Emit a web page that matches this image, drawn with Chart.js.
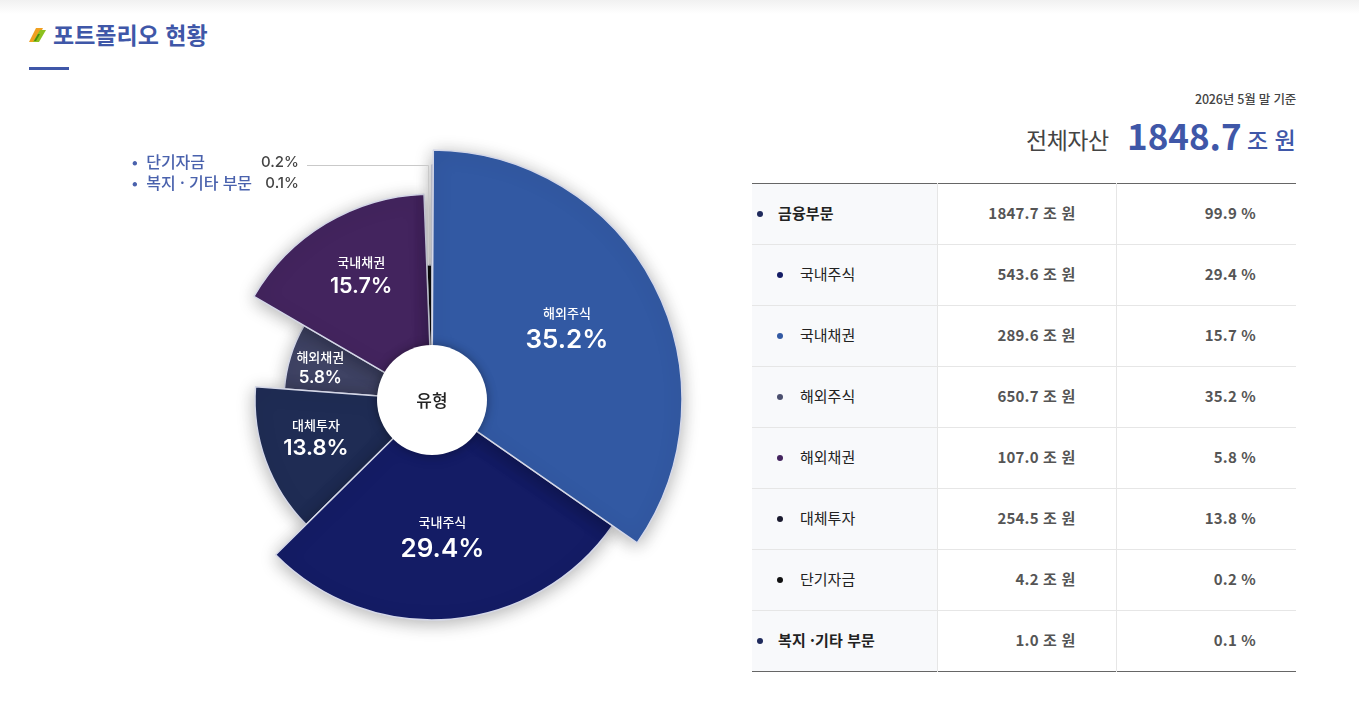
<!DOCTYPE html>
<html lang="ko">
<head>
<meta charset="utf-8">
<title>포트폴리오 현황</title>
<script src="https://cdn.jsdelivr.net/npm/chart.js@4"></script>
<style>
  html, body { margin: 0; padding: 0; background: #fff; }
  body { width: 1359px; height: 707px; position: relative; overflow: hidden; font-family: "Noto Sans CJK KR", "Noto Sans", sans-serif; }
  .topfade { position: absolute; left: 0; top: 0; width: 100%; height: 14px; background: linear-gradient(#f1f1f1, #fff); }
  .abs { position: absolute; white-space: nowrap; }
  #title { left: 53px; top: 18px; font-size: 23px; line-height: 32px; font-weight: 700; color: #3f57a8; }
  #rule { left: 29px; top: 67px; width: 40px; height: 3px; background: #3f57a8; }
  #icon { left: 28px; top: 26px; }
  #chartBox { position: absolute; left: 112px; top: 120px; width: 640px; height: 560px; }
  #date { right: 63px; top: 90px; font-size: 12.5px; line-height: 18px; font-weight: 500; color: #444; letter-spacing: -0.2px; }
  #totalLabel { left: 1026px; top: 122px; font-size: 23px; line-height: 34px; font-weight: 400; color: #444; letter-spacing: -0.5px; }
  #total { left: 1127px; top: 108px; font-size: 35px; line-height: 54px; font-weight: 700; color: #3f57a8; }
  #totalUnit { left: 1247px; top: 122px; font-size: 23px; line-height: 34px; font-weight: 500; color: #3f57a8; }
  .lg { font-size: 16px; line-height: 20px; color: #4a62ad; font-weight: 500; letter-spacing: -0.1px; }
  .lgv { font-size: 15px; line-height: 20px; color: #444; font-weight: 500; right: 1060px; font-family: Inter, sans-serif; }
  table { position: absolute; left: 752px; top: 183px; width: 544px; border-collapse: collapse; table-layout: fixed; border-top: 1px solid #666; border-bottom: 1px solid #666; }
  td { height: 56px; padding: 0 0 4px 0; border-top: 1px solid #e6e6e6; font-size: 15px; color: #555; font-weight: 700; text-align: right; letter-spacing: 0.2px; }
  tr:first-child td { border-top: 0; }
  td.name { background: #f8f9fb; text-align: left; color: #222; font-weight: 400; position: relative; border-right: 1px solid #e6e6e6; letter-spacing: 0; }
  td.amt { border-right: 1px solid #e6e6e6; padding-right: 40px; }
  td.pct { padding-right: 40px; }
  td.top { font-weight: 700; color: #222; padding-left: 26px; font-size: 15px; letter-spacing: 0.1px; }
  td.sub { padding-left: 48px; }
  .dot { position: absolute; top: 50%; margin-top: -3px; width: 6px; height: 6px; border-radius: 50%; }
</style>
</head>
<body>
<div class="topfade"></div>
<svg id="icon" class="abs" width="19" height="18" viewBox="0 0 19 18">
  <polygon points="1,16 8,2 15,2 8,16" fill="#f0a020"/>
  <polygon points="5,16 12,4 18,4 11,16" fill="#8cc11f"/>
  <polygon points="6,15 10,8 12,8 8,15" fill="#4a8a10"/>
</svg>
<div id="title" class="abs">포트폴리오 현황</div>
<div id="rule" class="abs"></div>

<div id="chartBox"><canvas id="fan"></canvas></div>

<div class="abs lg" style="left:132px;top:151px">•&nbsp;&nbsp;단기자금</div>
<div class="abs lgv" style="top:152px">0.2%</div>
<div class="abs lg" style="left:132px;top:172px">•&nbsp;&nbsp;복지 · 기타 부문</div>
<div class="abs lgv" style="top:173px">0.1%</div>

<div id="date" class="abs">2026년 5월 말 기준</div>
<div id="totalLabel" class="abs">전체자산</div>
<div id="total" class="abs">1848.7</div>
<div id="totalUnit" class="abs">조 원</div>

<table id="tbl">
  <colgroup><col style="width:185px"><col style="width:179px"><col style="width:180px"></colgroup>
  <tbody></tbody>
</table>

<script>
// slices, clockwise from 12 o'clock
const sliceNames = ["해외주식", "국내주식", "대체투자", "해외채권", "국내채권", "단기자금", "복지 · 기타 부문"];
// share of the circle each slice really takes in the picture (not quite the printed %)
const drawnShare = [34.6, 27.9, 13.6, 7.2, 16.0, 0.6, 0.1];
const printedShare = ["35.2%", "29.4%", "13.8%", "5.8%", "15.7%", "0.2%", "0.1%"];

// table on the right
const rowNames = ["금융부문", "국내주식", "국내채권", "해외주식", "해외채권", "대체투자", "단기자금", "복지 ·기타 부문"];
const rowAmounts = ["1847.7", "543.6", "289.6", "650.7", "107.0", "254.5", "4.2", "1.0"];
const rowPercents = ["99.9", "29.4", "15.7", "35.2", "5.8", "13.8", "0.2", "0.1"];

// looks
const sliceColors = ["#3259a3", "#141c65", "#1f2c54", "#3f4364", "#43245e", "#111111", "#d4d4d8"];
const sliceRadius = [250, 220, 177, 148, 206, 135, 235];
const labelDist = [154, 135, 121.5, 116.5, 145];
const labelTurn = [-1.4, 0.5, 3, -0.7, 1.8];
const labelBig = [26, 26, 22, 17, 21.5];
const labelGap = [26, 26, 21, 19, 23];
const holeRadius = 55;
const dotColors = ["#1f2a5c", "#141c65", "#3259a3", "#4b4f6e", "#43245e", "#1a1a2e", "#111111", "#1f2a5c"];

const tbody = document.querySelector("#tbl tbody");
rowNames.forEach((name, i) => {
  const isTop = i === 0 || i === rowNames.length - 1;
  const tr = document.createElement("tr");
  tr.innerHTML =
    '<td class="name ' + (isTop ? "top" : "sub") + '"><span class="dot" style="left:' + (isTop ? 5 : 25) + 'px;background:' + dotColors[i] + '"></span>' + name + '</td>' +
    '<td class="amt">' + rowAmounts[i] + ' 조 원</td>' +
    '<td class="pct">' + rowPercents[i] + ' %</td>';
  tbody.appendChild(tr);
});

const fanPlugin = {
  id: "fan",
  afterDatasetsUpdate(chart) {
    chart.getDatasetMeta(0).data.forEach((arc, i) => {
      arc.outerRadius = sliceRadius[i];
      arc.innerRadius = holeRadius - 5;
    });
  },
  // short slices first so that the longer ones throw their shadow over them
  beforeDatasetDraw(chart) {
    const ctx = chart.ctx;
    const arcs = chart.getDatasetMeta(0).data;
    const order = arcs.map((a, i) => i).sort((a, b) => sliceRadius[a] - sliceRadius[b]);
    ctx.save();
    ctx.shadowColor = "rgba(0,0,0,0.3)";
    ctx.shadowBlur = 18;
    ctx.shadowOffsetX = 0;
    ctx.shadowOffsetY = 3;
    order.forEach(i => arcs[i].draw(ctx));
    ctx.restore();
    return false;
  },
  afterDraw(chart) {
    const ctx = chart.ctx;
    const arcs = chart.getDatasetMeta(0).data;
    const cx = arcs[0].x, cy = arcs[0].y;

    // leader line from the small slices to the legend
    ctx.save();
    ctx.strokeStyle = "#c9c9c9";
    ctx.lineWidth = 1;
    ctx.beginPath();
    ctx.moveTo(cx - 125, cy - 234.5);
    ctx.lineTo(cx - 3.5, cy - 234.5);
    ctx.lineTo(cx - 3.5, cy - 135);
    ctx.stroke();
    ctx.restore();

    // labels on the slices
    ctx.save();
    ctx.fillStyle = "#fff";
    ctx.textAlign = "center";
    ctx.textBaseline = "middle";
    labelDist.forEach((dist, i) => {
      const mid = (arcs[i].startAngle + arcs[i].endAngle) / 2 + labelTurn[i] * Math.PI / 180;
      const x = cx + Math.cos(mid) * dist;
      const y = cy + Math.sin(mid) * dist;
      ctx.font = '500 13px "Noto Sans CJK KR"';
      ctx.fillText(sliceNames[i], x, y - labelGap[i] / 2);
      ctx.font = "600 " + labelBig[i] + "px Inter";
      ctx.fillText(printedShare[i], x, y + labelGap[i] / 2 + 1.5);
    });
    ctx.restore();

    // white hub
    ctx.save();
    ctx.shadowColor = "rgba(0,0,0,0.35)";
    ctx.shadowBlur = 10;
    ctx.fillStyle = "#fff";
    ctx.beginPath();
    ctx.arc(cx, cy, holeRadius, 0, Math.PI * 2);
    ctx.fill();
    ctx.restore();
    ctx.fillStyle = "#222";
    ctx.font = '500 17px "Noto Sans CJK KR"';
    ctx.textAlign = "center";
    ctx.textBaseline = "middle";
    ctx.fillText("유형", cx, cy + 1);
  }
};

new Chart(document.getElementById("fan"), {
  type: "doughnut",
  plugins: [fanPlugin],
  data: {
    labels: sliceNames,
    datasets: [{
      data: drawnShare,
      backgroundColor: sliceColors,
      borderColor: "#d5d8e8",
      borderWidth: 1.5
    }]
  },
  options: {
    responsive: true,
    maintainAspectRatio: false,
    animation: false,
    rotation: 0.3,
    cutout: holeRadius,
    plugins: { legend: { display: false }, tooltip: { enabled: false } }
  }
});
</script>
</body>
</html>
